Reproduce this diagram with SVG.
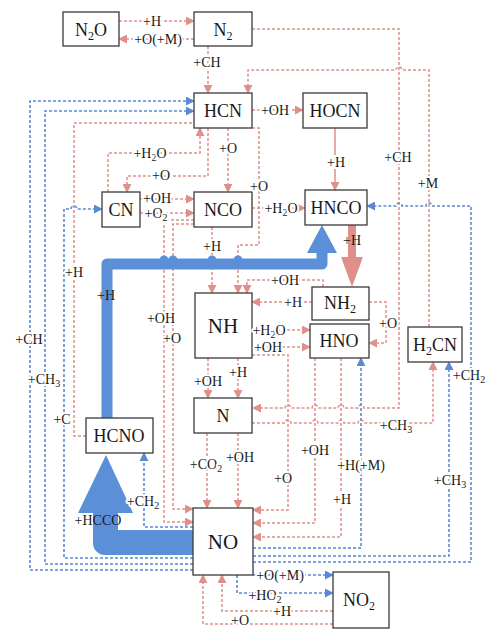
<svg xmlns="http://www.w3.org/2000/svg" width="486" height="630" viewBox="0 0 486 630">
<defs>
<style>
.box{fill:#fff;stroke:#3a3a3a;stroke-width:1.3}
.nt{font-family:"Liberation Serif","Times New Roman",serif;font-size:18px;text-anchor:middle;fill:#1a1a1a}
.big{font-size:21px}
.lb{font-family:"Liberation Serif","Times New Roman",serif;font-size:14px;text-anchor:middle;fill:#1a1a1a}
.h{paint-order:stroke;stroke:#fff;stroke-width:4px;stroke-linejoin:round}
.r{fill:none;stroke:#e0908a;stroke-width:1.5;stroke-dasharray:3 2}
.b{fill:none;stroke:#5a8ad6;stroke-width:1.6;stroke-dasharray:3 2}
.ra{marker-end:url(#ar)}
.ba{marker-end:url(#ab)}
</style>
<marker id="ar" viewBox="0 0 10 10" refX="9" refY="5" markerWidth="9" markerHeight="9" markerUnits="userSpaceOnUse" orient="auto"><path d="M0,0 L10,5 L0,10 z" fill="#e0908a"/></marker>
<marker id="ab" viewBox="0 0 10 10" refX="9" refY="5" markerWidth="9" markerHeight="9" markerUnits="userSpaceOnUse" orient="auto"><path d="M0,0 L10,5 L0,10 z" fill="#5a8ad6"/></marker>
</defs>
<rect width="486" height="630" fill="#fff"/>
<g id="connectors">
<path class="r ra" d="M119,21 H194"/>
<path class="r ra" d="M194,39 H119"/>
<path class="r ra" d="M208,46 V93"/>
<path class="r ra" d="M252,29 H399 V408 H364 a3,3 0 0 0 -6,0 H344 a3,3 0 0 0 -6,0 H318 a3,3 0 0 0 -6,0 H291 a3,3 0 0 0 -6,0 H253"/>
<path class="r ra" d="M429,327 V70 H402 a3,3 0 0 0 -6,0 H248 V93"/>
<path class="r ra" d="M252,110 H303"/>
<path class="ra" d="M335,128 V190" fill="none" stroke="#e0908a" stroke-width="1.5"/>
<path class="r ra" d="M108,192 V153 H200 V128"/>
<path class="r ra" d="M208,128 V176 H127 V192"/>
<path class="r ra" d="M228,128 V192"/>
<path class="r ra" d="M252,128 H259 V245 H238 V293"/>
<path class="r ra" d="M140,199 H194"/>
<path class="r ra" d="M140,213 H194"/>
<path class="r ra" d="M252,208 H305"/>
<path class="r ra" d="M212,227 V293"/>
<path class="r ra" d="M194,220 H164 V522 H193"/>
<path class="r ra" d="M194,224 H173 V509 H193"/>
<path class="r ra" d="M323,287 V280 H247 V293"/>
<path class="r ra" d="M312,302 H252"/>
<path class="r ra" d="M252,330 H310"/>
<path class="r ra" d="M252,347 H310"/>
<path class="r ra" d="M252,355 H288 V510 H253"/>
<path class="r ra" d="M369,302 H386 V343 H369"/>
<path class="r ra" d="M208,358 V398"/>
<path class="r ra" d="M238,358 V398"/>
<path class="r ra" d="M207,433 V508"/>
<path class="r ra" d="M238,433 V508"/>
<path class="r ra" d="M252,423 H285 a3,3 0 0 1 6,0 H312 a3,3 0 0 1 6,0 H338 a3,3 0 0 1 6,0 H358 a3,3 0 0 1 6,0 H433 V362"/>
<path class="r ra" d="M315,358 V523 H253"/>
<path class="r ra" d="M341,358 V537 H253"/>
<path class="r ra" d="M333,611 H222 V575"/>
<path class="r ra" d="M333,624 H203 V575"/>
<path class="r" d="M86,436 H74 V123 H194"/>
<path class="b ba" d="M193,570 H30 V101 H194"/>
<path class="b ba" d="M193,564 H45 V111 H194"/>
<path class="b ba" d="M193,558 H64 V209 H71 a3,3 0 0 1 6,0 H102"/>
<path class="b ba" d="M193,527 H144 V453"/>
<path class="b ba" d="M253,548 H361 V358"/>
<path class="b ba" d="M253,556 H449 V362"/>
<path class="b ba" d="M253,562 H471 V206 H432 a3,3 0 0 0 -6,0 H402 a3,3 0 0 0 -6,0 H367"/>
<path class="b ba" d="M253,575 H333"/>
<path class="b ba" d="M237,575 V593 H333"/>
<path fill="#e0908a" d="M348,225 H356 V257 H363 L352,287 L341,257 H348 Z"/>
<path d="M107,418 V264 H322 V252" fill="none" stroke="#5b8fd8" stroke-width="11" stroke-linejoin="round"/>
<polygon points="307,253 337,253 322,225" fill="#5b8fd8"/>
<g fill="#5b8fd8">
<circle cx="164" cy="260" r="4.5"/><circle cx="173" cy="260" r="4.5"/><circle cx="212" cy="260" r="4.5"/><circle cx="238" cy="260" r="4.5"/>
</g>
<path fill="#5b8fd8" d="M193,530 H118 V513 H133 L106,455 L78,513 H93 V543 A12,12 0 0 0 105,555 H193 Z"/>
</g>
<g id="N2O"><rect class="box" x="63" y="12" width="56" height="34"/><text class="nt" x="91" y="36">N<tspan font-size="12" dy="4">2</tspan><tspan dy="-4">O</tspan></text></g>
<g id="N2"><rect class="box" x="194" y="12" width="58" height="34"/><text class="nt" x="223" y="36">N<tspan font-size="12" dy="4">2</tspan></text></g>
<g id="HCN"><rect class="box" x="194" y="93" width="58" height="35"/><text class="nt" x="223" y="117">HCN</text></g>
<g id="HOCN"><rect class="box" x="303" y="93" width="64" height="35"/><text class="nt" x="335" y="117">HOCN</text></g>
<g id="CN"><rect class="box" x="102" y="192" width="38" height="35"/><text class="nt" x="121" y="216">CN</text></g>
<g id="NCO"><rect class="box" x="194" y="192" width="58" height="35"/><text class="nt" x="223" y="216">NCO</text></g>
<g id="HNCO"><rect class="box" x="305" y="190" width="62" height="35"/><text class="nt" x="336" y="214">HNCO</text></g>
<g id="NH2"><rect class="box" x="312" y="287" width="57" height="33"/><text class="nt" x="340" y="309">NH<tspan font-size="12" dy="4">2</tspan></text></g>
<g id="HNO"><rect class="box" x="310" y="324" width="59" height="34"/><text class="nt" x="339" y="347">HNO</text></g>
<g id="NH"><rect class="box" x="195" y="293" width="57" height="65"/><text class="nt big" x="223" y="333">NH</text></g>
<g id="N"><rect class="box" x="194" y="398" width="58" height="35"/><text class="nt" x="223" y="422">N</text></g>
<g id="H2CN"><rect class="box" x="408" y="327" width="54" height="35"/><text class="nt" x="435" y="351">H<tspan font-size="12" dy="4">2</tspan><tspan dy="-4">CN</tspan></text></g>
<g id="HCNO"><rect class="box" x="86" y="418" width="67" height="35"/><text class="nt" x="119" y="442">HCNO</text></g>
<g id="NO"><rect class="box" x="193" y="508" width="60" height="67"/><text class="nt big" x="223" y="549">NO</text></g>
<g id="NO2"><rect class="box" x="333" y="572" width="56" height="56"/><text class="nt" x="359" y="606">NO<tspan font-size="12" dy="4">2</tspan></text></g>
<g id="labels" class="lb">
<text class="h" x="152" y="26">+H</text>
<text class="h" x="158" y="44">+O(+M)</text>
<text class="h" x="207" y="67">+CH</text>
<text class="h" x="275" y="115">+OH</text>
<text class="h" x="336" y="167">+H</text>
<text class="h" x="398" y="162">+CH</text>
<text class="h" x="428" y="188">+M</text>
<text class="h" x="150" y="158">+H<tspan font-size="10" dy="3">2</tspan><tspan dy="-3">O</tspan></text>
<text class="h" x="161" y="180">+O</text>
<text class="h" x="228" y="153">+O</text>
<text class="h" x="259" y="191">+O</text>
<text class="h" x="157" y="203">+OH</text>
<text class="h" x="156" y="218">+O<tspan font-size="10" dy="3">2</tspan></text>
<text class="h" x="281" y="213">+H<tspan font-size="10" dy="3">2</tspan><tspan dy="-3">O</tspan></text>
<text class="h" x="212" y="251">+H</text>
<text class="h" x="285" y="285">+OH</text>
<text class="h" x="293" y="307">+H</text>
<text x="352" y="245">+H</text>
<text x="106" y="300">+H</text>
<text class="h" x="74" y="277">+H</text>
<text class="h" x="161" y="323">+OH</text>
<text class="h" x="172" y="343">+O</text>
<text class="h" x="269" y="335">+H<tspan font-size="10" dy="3">2</tspan><tspan dy="-3">O</tspan></text>
<text class="h" x="268" y="352">+OH</text>
<text class="h" x="388" y="328">+O</text>
<text class="h" x="208" y="386">+OH</text>
<text class="h" x="238" y="377">+H</text>
<text class="h" x="396" y="430">+CH<tspan font-size="10" dy="3">3</tspan></text>
<text class="h" x="469" y="380">+CH<tspan font-size="10" dy="3">2</tspan></text>
<text class="h" x="29" y="344">+CH</text>
<text class="h" x="44" y="384">+CH<tspan font-size="10" dy="3">3</tspan></text>
<text class="h" x="62" y="424">+C</text>
<text class="h" x="206" y="469">+CO<tspan font-size="10" dy="3">2</tspan></text>
<text class="h" x="240" y="462">+OH</text>
<text class="h" x="315" y="455">+OH</text>
<text class="h" x="361" y="470">+H(+M)</text>
<text class="h" x="283" y="483">+O</text>
<text class="h" x="342" y="504">+H</text>
<text class="h" x="450" y="485">+CH<tspan font-size="10" dy="3">3</tspan></text>
<text class="h" x="143" y="506">+CH<tspan font-size="10" dy="3">2</tspan></text>
<text x="98" y="525">+HCCO</text>
<text class="h" x="280" y="580">+O(+M)</text>
<text class="h" x="265" y="600">+HO<tspan font-size="10" dy="3">2</tspan></text>
<text class="h" x="282" y="616">+H</text>
<text class="h" x="240" y="625">+O</text>
</g>
</svg>
